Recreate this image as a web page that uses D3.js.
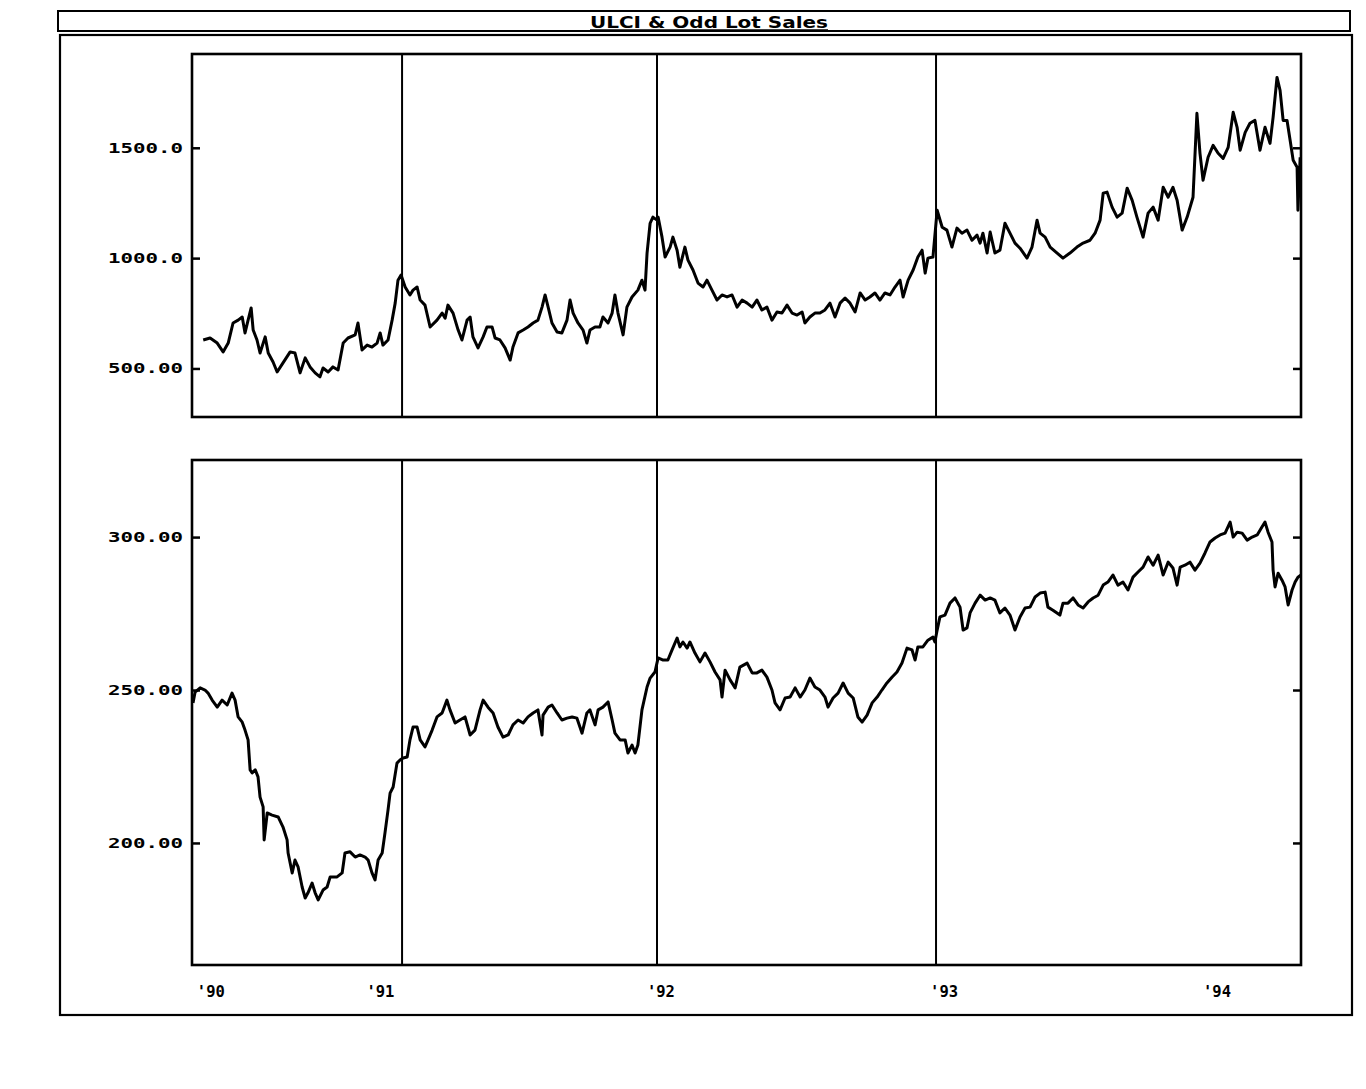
<!DOCTYPE html>
<html>
<head>
<meta charset="utf-8">
<script src="https://cdn.jsdelivr.net/npm/d3@7"></script>
<style>
  html, body { margin: 0; padding: 0; background: #fff; }
  svg { display: block; }
  text { fill: #000; }
</style>
</head>
<body>
<svg id="chart" width="1366" height="1089"></svg>
<script>
// ---------- DATA ----------
const chartTitle = "ULCI & Odd Lot Sales";

// Top panel: Odd Lot Sales  [decimal year, value]
const oddLotSales = [[1990.220,629],[1990.247,638],[1990.275,615],[1990.298,575],[1990.318,615],[1990.337,706],[1990.357,719],[1990.373,733],[1990.384,661],[1990.396,719],[1990.408,774],[1990.416,674],[1990.431,629],[1990.443,570],[1990.463,643],[1990.475,570],[1990.494,529],[1990.510,484],[1990.533,525],[1990.561,575],[1990.580,570],[1990.600,480],[1990.620,548],[1990.639,507],[1990.659,480],[1990.678,462],[1990.690,502],[1990.710,484],[1990.729,507],[1990.749,493],[1990.769,615],[1990.788,638],[1990.816,652],[1990.827,706],[1990.843,584],[1990.863,606],[1990.882,597],[1990.902,615],[1990.914,661],[1990.925,606],[1990.945,629],[1990.961,719],[1990.973,796],[1990.984,900],[1990.996,923],[1991.012,869],[1991.031,833],[1991.043,855],[1991.059,869],[1991.071,810],[1991.090,787],[1991.110,688],[1991.137,719],[1991.157,751],[1991.169,728],[1991.180,787],[1991.200,751],[1991.220,674],[1991.235,629],[1991.255,719],[1991.267,733],[1991.278,643],[1991.298,593],[1991.318,643],[1991.333,688],[1991.353,688],[1991.365,638],[1991.384,629],[1991.404,593],[1991.424,538],[1991.435,597],[1991.455,661],[1991.475,674],[1991.494,688],[1991.514,706],[1991.533,719],[1991.549,778],[1991.561,833],[1991.573,778],[1991.588,706],[1991.608,665],[1991.627,661],[1991.647,719],[1991.659,810],[1991.671,751],[1991.690,706],[1991.710,674],[1991.725,615],[1991.737,674],[1991.757,688],[1991.776,688],[1991.788,733],[1991.808,706],[1991.824,751],[1991.835,833],[1991.847,751],[1991.867,652],[1991.882,778],[1991.902,824],[1991.925,855],[1991.941,900],[1991.953,855],[1991.961,1023],[1991.973,1158],[1991.984,1186],[1992.000,1172],[1992.004,1186],[1992.018,1095],[1992.029,1005],[1992.047,1050],[1992.057,1095],[1992.072,1036],[1992.082,959],[1992.100,1050],[1992.111,991],[1992.129,946],[1992.147,887],[1992.165,869],[1992.179,900],[1992.197,855],[1992.215,810],[1992.233,833],[1992.251,824],[1992.269,833],[1992.287,778],[1992.305,810],[1992.323,796],[1992.341,778],[1992.358,810],[1992.376,765],[1992.394,778],[1992.412,719],[1992.430,756],[1992.448,751],[1992.466,787],[1992.484,751],[1992.502,742],[1992.520,756],[1992.530,706],[1992.548,733],[1992.566,751],[1992.584,751],[1992.602,765],[1992.620,796],[1992.638,733],[1992.656,796],[1992.674,819],[1992.692,796],[1992.710,756],[1992.728,842],[1992.746,810],[1992.763,824],[1992.781,842],[1992.799,810],[1992.817,842],[1992.835,833],[1992.853,869],[1992.871,900],[1992.882,824],[1992.900,900],[1992.918,946],[1992.935,1005],[1992.950,1036],[1992.961,932],[1992.971,1000],[1992.989,1005],[1993.004,1217],[1993.022,1140],[1993.039,1127],[1993.057,1050],[1993.075,1136],[1993.093,1113],[1993.111,1127],[1993.129,1081],[1993.147,1104],[1993.158,1068],[1993.168,1113],[1993.183,1023],[1993.194,1118],[1993.211,1023],[1993.229,1036],[1993.247,1158],[1993.265,1113],[1993.283,1068],[1993.301,1045],[1993.326,1000],[1993.344,1050],[1993.362,1172],[1993.373,1113],[1993.391,1095],[1993.409,1050],[1993.434,1023],[1993.455,1000],[1993.480,1023],[1993.505,1050],[1993.527,1068],[1993.552,1081],[1993.570,1113],[1993.588,1172],[1993.599,1294],[1993.613,1299],[1993.631,1231],[1993.649,1186],[1993.667,1204],[1993.685,1317],[1993.703,1262],[1993.720,1186],[1993.742,1095],[1993.760,1204],[1993.778,1231],[1993.796,1172],[1993.814,1321],[1993.832,1276],[1993.849,1321],[1993.864,1262],[1993.882,1127],[1993.900,1186],[1993.921,1276],[1993.935,1656],[1993.946,1475],[1993.957,1353],[1993.975,1457],[1993.993,1511],[1994.011,1475],[1994.029,1452],[1994.047,1502],[1994.065,1661],[1994.079,1593],[1994.090,1489],[1994.108,1570],[1994.125,1611],[1994.143,1624],[1994.161,1489],[1994.179,1593],[1994.197,1520],[1994.208,1638],[1994.222,1819],[1994.233,1760],[1994.244,1624],[1994.258,1624],[1994.269,1534],[1994.280,1443],[1994.294,1412],[1994.297,1217],[1994.305,1457]];

// Bottom panel: ULCI  [decimal year, value]
const ulci = [[1990.180,245.8],[1990.188,249.3],[1990.208,250.7],[1990.227,250.0],[1990.239,249.0],[1990.255,246.7],[1990.275,244.4],[1990.294,246.7],[1990.314,245.1],[1990.333,249.0],[1990.345,246.7],[1990.357,241.2],[1990.373,239.5],[1990.384,236.9],[1990.396,233.7],[1990.404,223.9],[1990.412,222.9],[1990.424,223.9],[1990.435,221.6],[1990.443,215.0],[1990.455,211.8],[1990.459,201.0],[1990.471,209.8],[1990.490,209.1],[1990.514,208.5],[1990.533,205.2],[1990.549,201.0],[1990.553,196.7],[1990.569,190.2],[1990.580,194.4],[1990.592,192.2],[1990.608,185.6],[1990.620,182.0],[1990.631,183.7],[1990.647,186.9],[1990.659,183.7],[1990.671,181.4],[1990.690,184.6],[1990.706,185.6],[1990.718,188.9],[1990.745,188.9],[1990.765,190.2],[1990.776,196.7],[1990.796,197.1],[1990.816,195.4],[1990.835,196.1],[1990.855,195.4],[1990.867,194.4],[1990.882,190.2],[1990.894,187.9],[1990.906,194.4],[1990.922,196.7],[1990.933,203.3],[1990.945,210.8],[1990.953,216.3],[1990.965,218.3],[1990.980,226.1],[1990.992,227.1],[1991.004,227.8],[1991.020,228.1],[1991.031,233.7],[1991.043,237.9],[1991.059,237.9],[1991.071,233.7],[1991.090,231.4],[1991.102,233.7],[1991.118,236.9],[1991.137,241.2],[1991.157,242.5],[1991.176,246.7],[1991.188,243.5],[1991.208,239.2],[1991.227,240.2],[1991.247,241.2],[1991.267,235.3],[1991.286,236.9],[1991.306,243.5],[1991.318,246.7],[1991.337,244.4],[1991.357,242.5],[1991.376,237.9],[1991.396,234.6],[1991.416,235.3],[1991.435,238.6],[1991.455,240.2],[1991.475,239.2],[1991.494,241.2],[1991.514,242.5],[1991.533,243.5],[1991.549,235.3],[1991.553,241.8],[1991.573,244.4],[1991.588,245.1],[1991.608,242.5],[1991.627,240.2],[1991.647,240.8],[1991.667,241.2],[1991.686,240.8],[1991.706,235.9],[1991.725,242.5],[1991.737,243.5],[1991.757,238.6],[1991.769,243.5],[1991.788,244.4],[1991.808,246.1],[1991.824,240.2],[1991.835,235.9],[1991.855,233.7],[1991.875,233.7],[1991.886,229.4],[1991.902,232.0],[1991.914,229.4],[1991.925,232.0],[1991.941,243.5],[1991.961,251.0],[1991.973,253.9],[1991.992,255.9],[1992.004,260.5],[1992.022,259.8],[1992.039,259.8],[1992.054,263.1],[1992.072,267.0],[1992.082,264.1],[1992.093,265.7],[1992.108,263.7],[1992.118,265.7],[1992.136,262.1],[1992.154,259.2],[1992.172,262.1],[1992.190,259.2],[1992.208,255.9],[1992.226,253.3],[1992.233,247.7],[1992.244,256.5],[1992.262,253.3],[1992.280,250.7],[1992.297,257.5],[1992.323,258.8],[1992.341,255.6],[1992.358,255.6],[1992.376,256.5],[1992.394,254.2],[1992.412,250.0],[1992.423,245.8],[1992.441,243.5],[1992.459,247.4],[1992.477,247.7],[1992.495,250.7],[1992.513,247.7],[1992.530,250.0],[1992.548,253.9],[1992.566,251.0],[1992.584,250.0],[1992.602,247.7],[1992.613,244.4],[1992.631,247.4],[1992.649,249.0],[1992.667,252.3],[1992.685,249.0],[1992.703,247.4],[1992.720,241.2],[1992.735,239.5],[1992.753,241.8],[1992.771,245.8],[1992.789,247.7],[1992.806,250.0],[1992.824,252.3],[1992.842,254.2],[1992.860,255.9],[1992.878,258.8],[1992.896,263.7],[1992.914,263.1],[1992.925,259.8],[1992.935,264.1],[1992.953,264.1],[1992.971,266.3],[1992.989,267.3],[1992.996,265.7],[1993.004,269.6],[1993.014,273.9],[1993.032,274.5],[1993.050,278.4],[1993.068,280.1],[1993.086,277.1],[1993.097,269.6],[1993.111,270.3],[1993.122,275.2],[1993.140,278.4],[1993.158,281.0],[1993.176,279.4],[1993.194,280.1],[1993.211,279.4],[1993.229,275.2],[1993.247,276.8],[1993.265,274.5],[1993.283,269.6],[1993.301,273.9],[1993.319,276.8],[1993.337,277.1],[1993.355,280.4],[1993.373,281.7],[1993.391,282.0],[1993.401,277.1],[1993.419,276.1],[1993.444,274.5],[1993.455,278.4],[1993.473,278.4],[1993.491,280.1],[1993.509,277.8],[1993.527,276.8],[1993.545,278.8],[1993.563,280.1],[1993.581,281.0],[1993.599,284.3],[1993.616,285.3],[1993.634,287.6],[1993.652,284.3],[1993.670,285.3],[1993.688,282.7],[1993.706,286.9],[1993.724,288.6],[1993.742,290.2],[1993.760,293.5],[1993.778,290.8],[1993.796,294.1],[1993.814,287.6],[1993.832,291.8],[1993.849,289.9],[1993.864,284.3],[1993.875,290.2],[1993.892,290.8],[1993.910,291.8],[1993.928,289.2],[1993.946,291.5],[1993.964,294.8],[1993.982,298.4],[1994.000,299.7],[1994.018,300.7],[1994.036,301.3],[1994.054,304.9],[1994.065,300.0],[1994.079,301.6],[1994.097,301.3],[1994.115,299.0],[1994.133,300.0],[1994.151,300.7],[1994.168,303.3],[1994.179,304.9],[1994.190,301.6],[1994.204,298.4],[1994.208,289.2],[1994.215,283.7],[1994.226,288.2],[1994.240,285.9],[1994.251,283.7],[1994.262,277.8],[1994.276,282.7],[1994.287,285.3],[1994.297,286.9],[1994.308,287.6]];

const topTicks = [500, 1000, 1500];
const topTickLabels = ["500.00", "1000.0", "1500.0"];
const bottomTicks = [200, 250, 300];
const bottomTickLabels = ["200.00", "250.00", "300.00"];
const yearDividers = [1991, 1992, 1993];
const xLabels = ["'90", "'91", "'92", "'93", "'94"];
const xLabelYears = [1990.25, 1990.915, 1992.014, 1993.029, 1994.007];

// ---------- LAYOUT ----------
const svg = d3.select("#chart");
const INK = "#000";
const monoFont = "'DejaVu Sans Mono', 'Liberation Mono', monospace";

const x = d3.scaleLinear()
  .domain([1990.176, 1992, 1994.308])
  .range([192, 657, 1301]);

const panels = [
  { data: oddLotSales, top: 54, bottom: 417, domain: [280, 1925],
    ticks: topTicks, labels: topTickLabels },
  { data: ulci, top: 460, bottom: 965, domain: [160.1, 325.2],
    ticks: bottomTicks, labels: bottomTickLabels }
];

// title box
svg.append("rect").attr("x", 58).attr("y", 11).attr("width", 1292).attr("height", 20)
  .attr("fill", "none").attr("stroke", INK).attr("stroke-width", 2);
svg.append("text").attr("x", 709).attr("y", 28).attr("text-anchor", "middle")
  .attr("font-family", "'DejaVu Sans Condensed', 'DejaVu Sans', sans-serif")
  .attr("font-weight", "bold").attr("font-size", 15)
  .attr("textLength", 238).attr("lengthAdjust", "spacingAndGlyphs")
  .text(chartTitle);
svg.append("line").attr("x1", 590).attr("x2", 828).attr("y1", 30).attr("y2", 30)
  .attr("stroke", INK).attr("stroke-width", 1.5);

// outer frame
svg.append("rect").attr("x", 60).attr("y", 35).attr("width", 1292).attr("height", 980)
  .attr("fill", "none").attr("stroke", INK).attr("stroke-width", 2.2);

const xr = x.range();
const x0 = xr[0], x1 = xr[xr.length - 1];

panels.forEach(p => {
  const y = d3.scaleLinear().domain(p.domain).range([p.bottom, p.top]);
  const g = svg.append("g");

  // frame
  g.append("rect").attr("x", x0).attr("y", p.top)
    .attr("width", x1 - x0).attr("height", p.bottom - p.top)
    .attr("fill", "none").attr("stroke", INK).attr("stroke-width", 2.6);

  // year divider lines
  g.selectAll("line.div").data(yearDividers).join("line")
    .attr("x1", d => x(d)).attr("x2", d => x(d))
    .attr("y1", p.top).attr("y2", p.bottom)
    .attr("stroke", INK).attr("stroke-width", 2);

  // inward ticks on both sides
  const leftAxis = d3.axisRight(y).tickValues(p.ticks).tickSize(8).tickFormat("");
  const la = g.append("g").attr("transform", `translate(${x0},0)`).call(leftAxis);
  la.select(".domain").remove();
  la.selectAll("line").attr("stroke", INK).attr("stroke-width", 2.5);

  const rightAxis = d3.axisLeft(y).tickValues(p.ticks).tickSize(8).tickFormat("");
  const ra = g.append("g").attr("transform", `translate(${x1},0)`).call(rightAxis);
  ra.select(".domain").remove();
  ra.selectAll("line").attr("stroke", INK).attr("stroke-width", 2.5);

  g.selectAll("text.ylab").data(p.ticks).join("text")
    .attr("class", "ylab")
    .attr("x", 108).attr("y", d => y(d) + 5)
    .attr("font-family", monoFont).attr("font-weight", "bold").attr("font-size", 14)
    .attr("textLength", 75).attr("lengthAdjust", "spacingAndGlyphs")
    .text((d, i) => p.labels[i]);

  // series line
  const line = d3.line().x(d => x(d[0])).y(d => y(d[1]));
  g.append("path").datum(p.data).attr("d", line)
    .attr("fill", "none").attr("stroke", INK).attr("stroke-width", 3)
    .attr("stroke-linejoin", "round");
});

// x labels
svg.selectAll("text.xlab").data(xLabels).join("text")
  .attr("class", "xlab")
  .attr("x", (d, i) => x(xLabelYears[i])).attr("y", 997)
  .attr("text-anchor", "middle")
  .attr("font-family", monoFont).attr("font-weight", "bold").attr("font-size", 15)
  .attr("textLength", 28).attr("lengthAdjust", "spacingAndGlyphs")
  .text(d => d);
</script>
</body>
</html>
